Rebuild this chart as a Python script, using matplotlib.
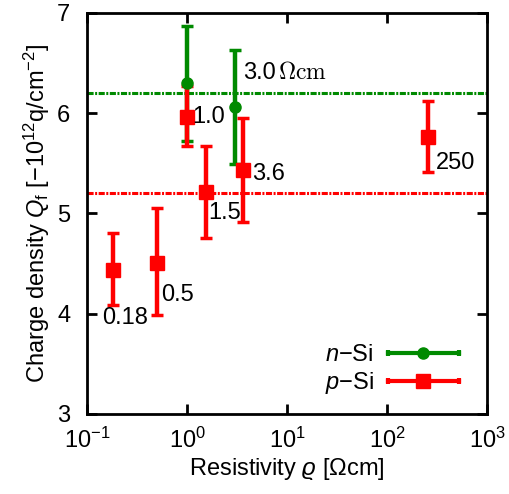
import matplotlib.pyplot as plt
from matplotlib.lines import Line2D
from matplotlib.legend_handler import HandlerLine2D, HandlerTuple

plt.rcParams['font.family'] = 'Liberation Sans'
plt.rcParams['mathtext.fontset'] = 'custom'
plt.rcParams['mathtext.rm'] = 'Liberation Sans'
plt.rcParams['mathtext.it'] = 'Liberation Sans:italic'
plt.rcParams['font.size'] = 17

# n-type silicon
n_rho = [1.0, 3.0]
n_q = [6.30, 6.06]
n_lo = [5.72, 5.49]
n_hi = [6.87, 6.63]
n_avg = 6.2

# p-type silicon
p_rho = [0.18, 0.5, 1.0, 1.54, 3.6, 255]
p_q = [4.44, 4.51, 5.96, 5.21, 5.43, 5.76]
p_lo = [4.09, 3.99, 5.67, 4.75, 4.91, 5.41]
p_hi = [4.80, 5.05, 6.27, 5.67, 5.95, 6.12]
p_avg = 5.2

p_labels = ['0.18', '0.5', '1.0', '1.5', '3.6', '250']
# label offsets in points
p_offsets = [(-7.6, -34.6), (2.7, -23.5), (3.8, 0), (1.7, -14.6), (7, -2.9), (5.5, -18.5)]

green = '#008a00'
red = '#ff0000'

fig = plt.figure(figsize=(5.09, 4.94), dpi=100)
ax = fig.add_axes([0.171, 0.162, 0.786, 0.812])

dashdot = (0, (2.0, 0.5, 0.65, 0.5))
ax.axhline(n_avg, color=green, lw=2.2, ls=dashdot)
ax.axhline(p_avg, color=red, lw=2.2, ls=dashdot)

n_err = [[q - lo for q, lo in zip(n_q, n_lo)], [hi - q for q, hi in zip(n_q, n_hi)]]
p_err = [[q - lo for q, lo in zip(p_q, p_lo)], [hi - q for q, hi in zip(p_q, p_hi)]]

ax.errorbar(n_rho, n_q, yerr=n_err, fmt='o', color=green, ms=8,
            elinewidth=3.2, capsize=4.5, capthick=2.5)
ax.errorbar(p_rho, p_q, yerr=p_err, fmt='s', color=red, ms=9.5,
            elinewidth=3.2, capsize=4.5, capthick=2.5)

for x, y, s, off in zip(p_rho, p_q, p_labels, p_offsets):
    ax.annotate(s, (x, y), xytext=off, textcoords='offset points',
                ha='left', va='center')

ax.annotate('3.0', (n_rho[1], n_q[1]), xytext=(5.8, 24.7), textcoords='offset points',
            ha='left', va='center')
ax.annotate(r'$\Omega\mathrm{cm}$', (n_rho[1], n_q[1]), xytext=(31, 24.7),
            textcoords='offset points', ha='left', va='center',
            math_fontfamily='cm')

ax.set_xscale('log')
ax.set_xlim(0.1, 1000)
ax.set_ylim(3, 7)
ax.set_yticks([3, 4, 5, 6, 7])
ax.minorticks_off()
ax.tick_params(direction='in', length=7, width=2, top=True, right=True)
ax.tick_params(axis='x', pad=10)
ax.tick_params(axis='y', pad=12)
for sp in ax.spines.values():
    sp.set_linewidth(2)

ax.set_xlabel(r'Resistivity $\varrho$ [$\Omega$cm]', labelpad=2)
ax.set_ylabel(r'Charge density $Q_\mathrm{f}$ [$-10^{12}$q/cm$^{-2}$]', labelpad=4)

# gnuplot-style legend: horizontal bar with caps and a marker in the middle
def make_handle(color, marker, ms):
    body = Line2D([], [], color=color, lw=3, marker=marker, ms=ms)
    caps = Line2D([], [], color=color, lw=0, marker='|', ms=5, mew=3)
    return (body, caps)

h_n = make_handle(green, 'o', 8)
h_p = make_handle(red, 's', 9.5)
hmap = {h_n[1]: HandlerLine2D(numpoints=2, marker_pad=0),
        h_p[1]: HandlerLine2D(numpoints=2, marker_pad=0),
        tuple: HandlerTuple(ndivide=1)}
ax.legend([h_n, h_p], [r'$n$−Si', r'$p$−Si'], handler_map=hmap, loc='lower right',
          frameon=False, numpoints=1, markerfirst=False, handlelength=3.0,
          handletextpad=0.6, labelspacing=0.15, bbox_to_anchor=(0.982, -0.008))

fig.savefig('out.png', dpi=100)
